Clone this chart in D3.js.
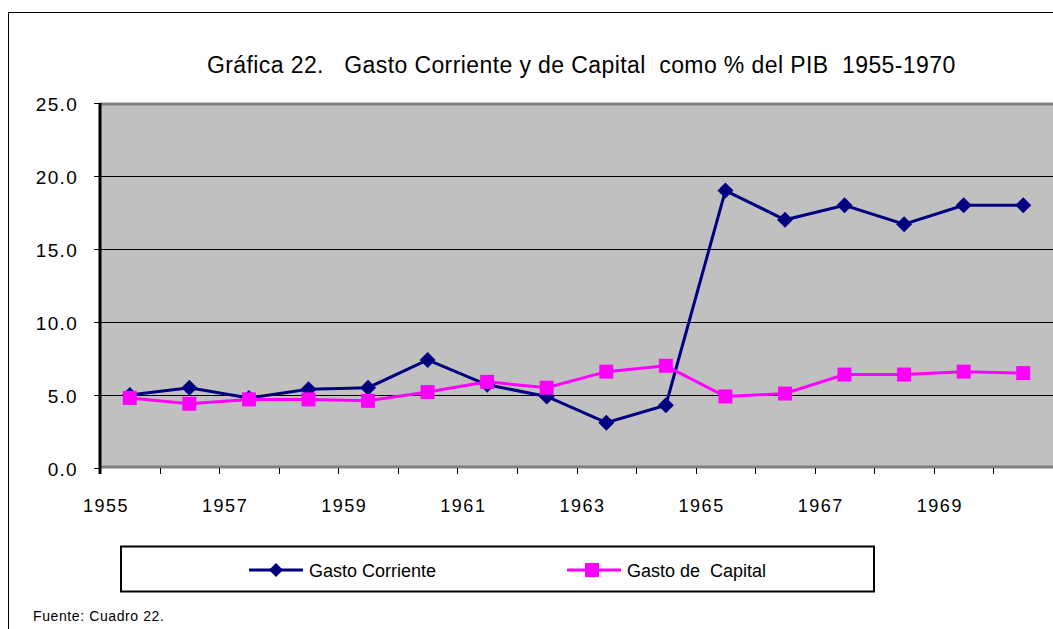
<!DOCTYPE html>
<html>
<head>
<meta charset="utf-8">
<script src="https://cdn.jsdelivr.net/npm/d3@7"></script>
<style>
  body { margin: 0; background: #fff; }
  text { font-family: "Liberation Sans", Arial, sans-serif; fill: #000; }
</style>
</head>
<body>
<div id="chart"></div>
<script>
// Data
var years = [1955, 1956, 1957, 1958, 1959, 1960, 1961, 1962, 1963, 1964, 1965, 1966, 1967, 1968, 1969, 1970];
var gastoCorriente = [5.0, 5.5, 4.8, 5.4, 5.5, 7.4, 5.7, 4.9, 3.1, 4.3, 19.0, 17.0, 18.0, 16.7, 18.0, 18.0];
var gastoCapital = [4.8, 4.4, 4.7, 4.7, 4.6, 5.2, 5.9, 5.5, 6.6, 7.0, 4.9, 5.1, 6.4, 6.4, 6.6, 6.5];
var yTicks = [0, 5, 10, 15, 20, 25];
var xLabels = [1955, 1957, 1959, 1961, 1963, 1965, 1967, 1969];

var W = 1053, H = 629;
var margin = {top: 103, right: 0, bottom: 161, left: 100},
    width = W - margin.left - margin.right,
    height = H - margin.top - margin.bottom;

var svg = d3.select("#chart").append("svg")
    .attr("width", W)
    .attr("height", H);

// outer frame
svg.append("rect")
    .attr("x", 8.5).attr("y", 12.5)
    .attr("width", W + 10).attr("height", H + 10)
    .attr("fill", "none").attr("stroke", "#000").attr("stroke-width", 1);

// title
svg.append("text")
    .attr("x", 207).attr("y", 73)
    .style("font-size", "23px")
    .style("letter-spacing", "0.4px")
    .attr("xml:space", "preserve")
    .text("Gráfica 22.   Gasto Corriente y de Capital  como % del PIB  1955-1970");

var g = svg.append("g")
    .attr("transform", "translate(" + margin.left + "," + margin.top + ")");

var x = d3.scaleBand().domain(years).range([0, width]);
var y = d3.scaleLinear().domain([0, 25]).range([height, 0]);

// plot background
g.append("rect")
    .attr("width", width).attr("height", height)
    .attr("fill", "#c0c0c0");

// gridlines
g.selectAll(".grid")
    .data(yTicks.filter(function(d) { return d > 0 && d < 25; }))
  .enter().append("line")
    .attr("x1", 0).attr("x2", width)
    .attr("y1", function(d) { return Math.round(y(d)) + 0.5; })
    .attr("y2", function(d) { return Math.round(y(d)) + 0.5; })
    .attr("stroke", "#000").attr("stroke-width", 1);

// top and bottom borders of the plot
g.append("line")
    .attr("x1", 0).attr("x2", width).attr("y1", 1).attr("y2", 1)
    .attr("stroke", "#808080").attr("stroke-width", 3);
g.append("line")
    .attr("x1", 0).attr("x2", width).attr("y1", height - 1).attr("y2", height - 1)
    .attr("stroke", "#808080").attr("stroke-width", 3);

// y axis
var yAxis = g.append("g")
    .call(d3.axisLeft(y).tickValues(yTicks).tickFormat(d3.format(".1f")).tickSize(6).tickSizeOuter(0));
yAxis.select(".domain").remove();
yAxis.selectAll(".tick line").attr("stroke", "#000");
yAxis.selectAll(".tick text")
    .attr("x", -22)
    .attr("dy", "0.4em")
    .style("font-size", "19px")
    .style("letter-spacing", "1.3px")
    .style("font-family", "'Liberation Sans', Arial, sans-serif");
g.append("line")
    .attr("x1", 0).attr("x2", 0).attr("y1", 0).attr("y2", height + 6)
    .attr("stroke", "#000").attr("stroke-width", 3);

// x axis ticks at band edges
g.selectAll(".xtick")
    .data(years.slice(1))
  .enter().append("line")
    .attr("x1", function(d) { return Math.round(x(d)) + 0.5; })
    .attr("x2", function(d) { return Math.round(x(d)) + 0.5; })
    .attr("y1", height).attr("y2", height + 6)
    .attr("stroke", "#000").attr("stroke-width", 1);

// x labels
g.selectAll(".xlabel")
    .data(xLabels)
  .enter().append("text")
    .attr("x", function(d) { return x(d) + 6; })
    .attr("y", height + 44)
    .attr("text-anchor", "middle")
    .style("font-size", "18px")
    .style("letter-spacing", "1.5px")
    .text(function(d) { return d; });

var line = d3.line()
    .x(function(d, i) { return x(years[i]) + x.bandwidth() / 2; })
    .y(function(d) { return y(d); });

// Gasto Corriente
g.append("path")
    .datum(gastoCorriente)
    .attr("d", line)
    .attr("fill", "none").attr("stroke", "#000080").attr("stroke-width", 3);
g.selectAll(".diamond")
    .data(gastoCorriente)
  .enter().append("path")
    .attr("transform", function(d, i) { return "translate(" + (x(years[i]) + x.bandwidth() / 2) + "," + y(d) + ")"; })
    .attr("d", "M0,-8L8,0L0,8L-8,0Z")
    .attr("fill", "#000080");

// Gasto de Capital
g.append("path")
    .datum(gastoCapital)
    .attr("d", line)
    .attr("fill", "none").attr("stroke", "#ff00ff").attr("stroke-width", 3);
g.selectAll(".square")
    .data(gastoCapital)
  .enter().append("rect")
    .attr("x", function(d, i) { return x(years[i]) + x.bandwidth() / 2 - 7; })
    .attr("y", function(d) { return y(d) - 7; })
    .attr("width", 14).attr("height", 14)
    .attr("fill", "#ff00ff");

// legend
var legend = svg.append("g");
legend.append("rect")
    .attr("x", 121).attr("y", 546.5)
    .attr("width", 753).attr("height", 45)
    .attr("fill", "#fff").attr("stroke", "#000").attr("stroke-width", 2);

var legItems = [
  {name: "Gasto Corriente", color: "#000080", shape: "diamond", x0: 249},
  {name: "Gasto de  Capital", color: "#ff00ff", shape: "square", x0: 567}
];
legItems.forEach(function(it) {
  legend.append("line")
      .attr("x1", it.x0).attr("x2", it.x0 + 54)
      .attr("y1", 570).attr("y2", 570)
      .attr("stroke", it.color).attr("stroke-width", 3);
  if (it.shape === "diamond") {
    legend.append("path")
        .attr("transform", "translate(" + (it.x0 + 27) + ",570)")
        .attr("d", "M0,-7L7,0L0,7L-7,0Z")
        .attr("fill", it.color);
  } else {
    legend.append("rect")
        .attr("x", it.x0 + 18).attr("y", 563)
        .attr("width", 14).attr("height", 14)
        .attr("fill", it.color);
  }
  legend.append("text")
      .attr("x", it.x0 + 60).attr("y", 577)
      .attr("xml:space", "preserve")
      .style("font-size", "18px")
      .text(it.name);
});

// source
svg.append("text")
    .attr("x", 33).attr("y", 621)
    .style("font-size", "14px")
    .style("letter-spacing", "0.6px")
    .text("Fuente: Cuadro 22.");
</script>
</body>
</html>
